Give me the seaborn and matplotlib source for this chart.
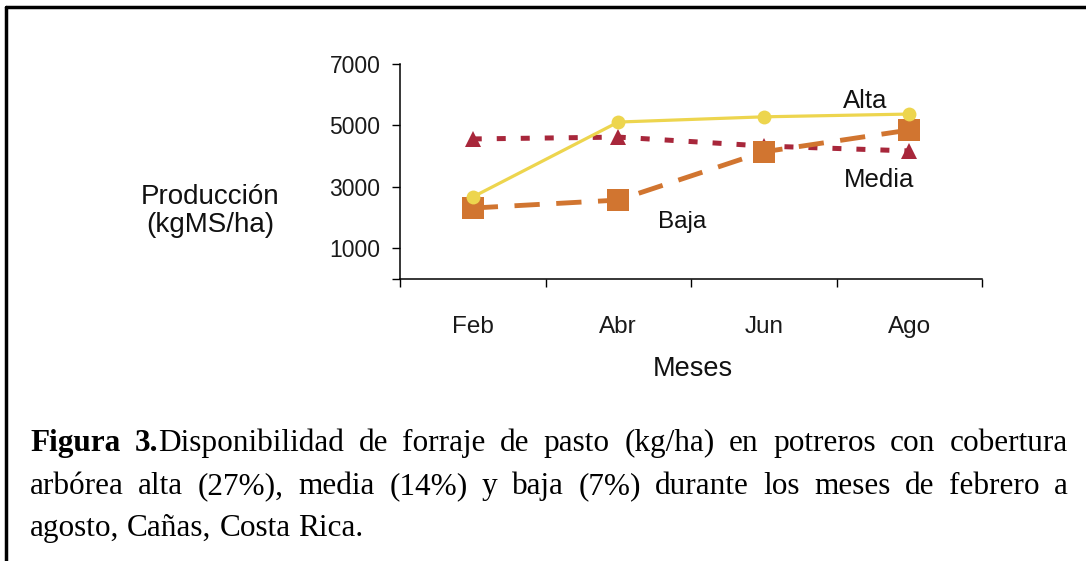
import numpy as np
import matplotlib
matplotlib.use("Agg")
import matplotlib.pyplot as plt
import seaborn as sns
from matplotlib.lines import Line2D

# Data
meses = ["Feb", "Abr", "Jun", "Ago"]
alta = [2670, 5110, 5280, 5370]
media = [4560, 4620, 4330, 4170]
baja = [2310, 2570, 4140, 4850]
y_ticks = [0, 1000, 3000, 5000, 7000]
y_tick_labels = ["", "1000", "3000", "5000", "7000"]

caption = [
    [[("Figura", "bold")], [("3.", "bold"), ("Disponibilidad", "normal")], [("de", "normal")],
     [("forraje", "normal")], [("de", "normal")], [("pasto", "normal")], [("(kg/ha)", "normal")],
     [("en", "normal")], [("potreros", "normal")], [("con", "normal")], [("cobertura", "normal")]],
    [[(w, "normal")] for w in "arbórea alta (27%), media (14%) y baja (7%) durante los meses de febrero a".split()],
    [[(w, "normal")] for w in "agosto, Cañas, Costa Rica.".split()],
]

sns.set_theme(style="white")
plt.rcParams['font.family'] = ['Liberation Sans', 'DejaVu Sans']

W, H = 1086, 561
fig = plt.figure(figsize=(W / 100, H / 100), dpi=100)
fig.patch.set_facecolor("white")
ax = fig.add_axes([400 / W, 1 - 279 / H, 582 / W, 215 / H])

x = np.arange(len(meses))

# Media (dotted, triangles), Baja (dashed, squares), Alta (solid, circles)
sns.lineplot(x=x, y=media, ax=ax, color="#A8273B", lw=3.6, ls=(0, (1.8, 3.0)),
             marker="^", ms=11, mec="#A8273B", mew=0, zorder=2)
sns.lineplot(x=x, y=baja, ax=ax, color="#D17530", lw=3.5, ls=(0, (5.2, 3.4)),
             marker="s", ms=16, mec="#D17530", mew=0, zorder=3)
sns.lineplot(x=x, y=alta, ax=ax, color="#EDD54E", lw=2.3, ls="-",
             marker="o", ms=10, mec="#EDD54E", mew=0, zorder=4)

ax.set_xlim(-0.5, 3.5)
ax.set_ylim(0, 7000)
ax.set_xticks(x)
ax.set_xticklabels(meses, fontsize=17.5, color="#1a1a1a")
for lbl in ax.get_xticklabels():
    lbl.set_verticalalignment("baseline")
ax.set_xticks(np.arange(-0.5, 4.0, 1.0), minor=True)
ax.tick_params(axis="x", which="major", length=0, pad=39)
ax.tick_params(axis="x", which="minor", length=6, width=1, color="black", direction="out", bottom=True)
ax.set_yticks(y_ticks)
ax.set_yticklabels(y_tick_labels, fontsize=16.5, color="#1a1a1a")
ax.tick_params(axis="y", length=6, width=1, color="black", direction="out", pad=8, left=True)
for s in ["top", "right"]:
    ax.spines[s].set_visible(False)
for s in ["left", "bottom"]:
    ax.spines[s].set_color("black")
    ax.spines[s].set_linewidth(1.1)
ax.set_xlabel("")
ax.set_ylabel("")

ax.text(2.70, 5800, "Alta", fontsize=18.5, ha="center", va="center", color="#111111")
ax.text(2.79, 3220, "Media", fontsize=18.5, ha="center", va="center", color="#111111")
ax.text(1.44, 1860, "Baja", fontsize=17.5, ha="center", va="center", color="#111111")

fig.text(210 / W, 1 - 211 / H, "Producción\n(kgMS/ha)", fontsize=20, ha="center", va="center",
         linespacing=1.15, color="#111111")
fig.text(693 / W, 1 - 369 / H, "Meses", fontsize=19.5, ha="center", va="center", color="#111111")

# frame lines
fig.add_artist(Line2D([6 / W, 1], [1 - 7 / H, 1 - 7 / H], transform=fig.transFigure, color="black", lw=2.5))
fig.add_artist(Line2D([6 / W, 6 / W], [0, 1 - 7 / H], transform=fig.transFigure, color="black", lw=2.5))

# justified caption
renderer = fig.canvas.get_renderer()


def place_line(words, base_y, x0, x1, justify):
    placed = []
    total = 0
    for word in words:
        parts = []
        wsum = 0
        for txt, wt in word:
            t = fig.text(0, 1 - base_y / H, txt, fontsize=22.5, fontweight=wt,
                         family=["Liberation Serif", "DejaVu Serif"], va="baseline", ha="left", color="black")
            w = t.get_window_extent(renderer).width
            parts.append((t, w))
            wsum += w
        placed.append(parts)
        total += wsum
    if justify and len(placed) > 1:
        gap = (x1 - x0 - total) / (len(placed) - 1)
    else:
        gap = 7.8
    cx = x0
    for parts in placed:
        for t, w in parts:
            t.set_x(cx / W)
            cx += w
        cx += gap


place_line(caption[0], 451, 30, 1068, True)
place_line(caption[1], 494, 30, 1068, True)
place_line(caption[2], 536, 30, 1068, False)

fig.savefig("out.png", dpi=100, facecolor="white")
